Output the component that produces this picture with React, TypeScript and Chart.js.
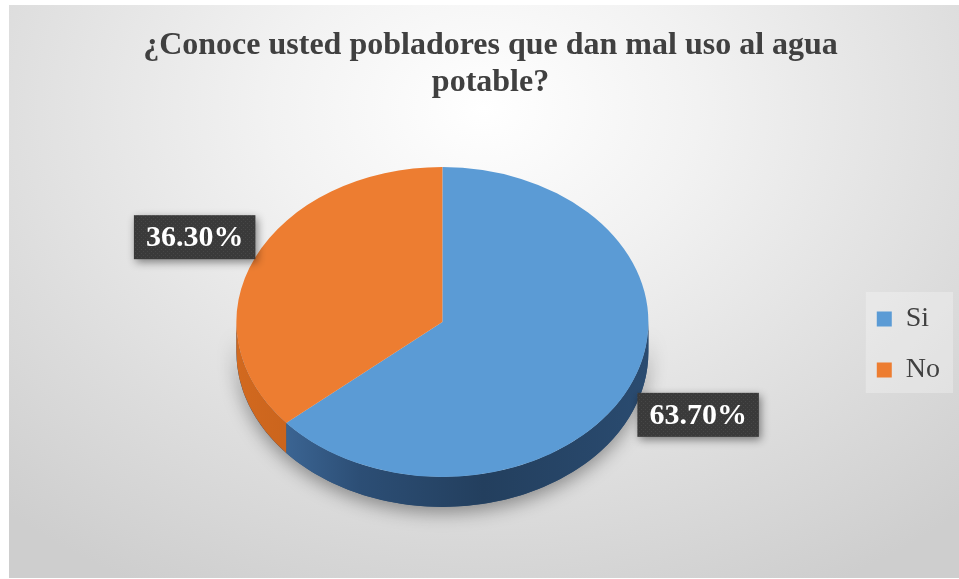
import React, { useEffect, useRef } from "react";
import { Chart, registerables } from "chart.js";

Chart.register(...registerables);

const titleLines = ["¿Conoce usted pobladores que dan mal uso al agua", "potable?"];
const categories = ["Si", "No"];
const percentages = [63.7, 36.3];
const topColors = ["#5b9bd5", "#ed7d31"];

const K = 0.752; // vertical squash of the pie (tilt)
const DEPTH = 30; // side height in px

function makePattern(ctx: CanvasRenderingContext2D) {
  const c = document.createElement("canvas");
  c.width = 4;
  c.height = 4;
  const p = c.getContext("2d")!;
  p.fillStyle = "#3a3a3a";
  p.fillRect(0, 0, 4, 4);
  p.fillStyle = "#474747";
  p.fillRect(0, 0, 1, 1);
  p.fillRect(2, 2, 1, 1);
  return ctx.createPattern(c, "repeat") || "#3a3a3a";
}

const pie3d = {
  id: "pie3d",
  beforeDraw(chart: any) {
    const legend = chart.legend;
    const boxes = legend && legend.legendHitBoxes;
    if (!boxes || !boxes.length) return;
    const ctx = chart.ctx;
    let l = Infinity, t = Infinity, r = -Infinity, b = -Infinity;
    boxes.forEach((h: any) => {
      l = Math.min(l, h.left);
      t = Math.min(t, h.top);
      r = Math.max(r, h.left + h.width);
      b = Math.max(b, h.top + h.height);
    });
    ctx.save();
    ctx.fillStyle = "rgba(255,255,255,0.28)";
    ctx.fillRect(l - 11, t - 13, r - l + 24, b - t + 22);
    ctx.restore();
  },
  beforeDatasetsDraw(chart: any) {
    const ctx = chart.ctx;
    const meta = chart.getDatasetMeta(0);
    const first = meta.data[0];
    const cx = first.x, cy = first.y, R = first.outerRadius;
    const ry = R * K;
    // shadow under the whole pie
    ctx.save();
    ctx.shadowColor = "rgba(0,0,0,0.38)";
    ctx.shadowBlur = 18;
    ctx.shadowOffsetY = 6;
    ctx.fillStyle = "#2a4a6e";
    ctx.beginPath();
    ctx.ellipse(cx, cy, R, ry, 0, 0, Math.PI);
    ctx.ellipse(cx, cy + DEPTH, R, ry, 0, Math.PI, 0, true);
    ctx.closePath();
    ctx.fill();
    ctx.restore();

    const sideGrads = [
      ["#4573a6", "#2c4e75", "#233f5e", "#2a4b70"],
      ["#d2691f", "#c05e1a", "#b05418", "#b05418"],
    ];
    meta.data.forEach((arc: any, i: number) => {
      const segs = [
        [Math.max(arc.startAngle, 0), Math.min(arc.endAngle, Math.PI)],
        [Math.max(arc.startAngle, 2 * Math.PI), Math.min(arc.endAngle, 3 * Math.PI)],
      ];
      segs.forEach(([a, b]) => {
        if (b <= a) return;
        const g = ctx.createLinearGradient(cx - R, 0, cx + R, 0);
        const s = sideGrads[i % 2];
        g.addColorStop(0, s[0]);
        g.addColorStop(0.3, s[1]);
        g.addColorStop(0.6, s[2]);
        g.addColorStop(1, s[3]);
        ctx.save();
        ctx.fillStyle = g;
        ctx.beginPath();
        ctx.ellipse(cx, cy, R, ry, 0, a, b);
        ctx.lineTo(cx + R * Math.cos(b), cy + ry * Math.sin(b) + DEPTH);
        ctx.ellipse(cx, cy + DEPTH, R, ry, 0, b, a, true);
        ctx.closePath();
        ctx.fill();
        ctx.restore();
      });
    });
    ctx.save();
    ctx.translate(cx, cy);
    ctx.scale(1, K);
    ctx.translate(-cx, -cy);
  },
  afterDatasetsDraw(chart: any) {
    const ctx = chart.ctx;
    ctx.restore();
    const meta = chart.getDatasetMeta(0);
    const values = chart.data.datasets[0].data as number[];
    const pattern = makePattern(ctx);
    meta.data.forEach((arc: any, i: number) => {
      const cx = arc.x, cy = arc.y, R = arc.outerRadius;
      const mid = (arc.startAngle + arc.endAngle) / 2;
      const lx = cx + Math.cos(mid) * (R + 71) + 4;
      const ly = cy + Math.sin(mid) * (R * K + 58) + 4;
      const text = values[i].toFixed(2) + "%";
      ctx.save();
      ctx.font = "bold 30px 'Liberation Serif'";
      const w = ctx.measureText(text).width + 24;
      const h = 44;
      ctx.shadowColor = "rgba(0,0,0,0.45)";
      ctx.shadowBlur = 8;
      ctx.shadowOffsetX = 2;
      ctx.shadowOffsetY = 3;
      ctx.fillStyle = pattern;
      ctx.fillRect(lx - w / 2, ly - h / 2, w, h);
      ctx.shadowColor = "transparent";
      ctx.fillStyle = "#ffffff";
      ctx.textAlign = "center";
      ctx.textBaseline = "middle";
      ctx.fillText(text, lx, ly + 1);
      ctx.restore();
    });
  },
};

export default function App() {
  const ref = useRef<HTMLCanvasElement | null>(null);
  useEffect(() => {
    if (!ref.current) return;
    const chart = new Chart(ref.current, {
      type: "pie",
      data: {
        labels: categories,
        datasets: [
          {
            data: percentages,
            backgroundColor: topColors,
            borderWidth: 0,
            radius: 206,
          },
        ],
      },
      options: {
        animation: false,
        responsive: true,
        maintainAspectRatio: false,
        layout: { padding: { left: 22, right: 9, top: 0, bottom: 50 } },
        plugins: {
          tooltip: { enabled: false },
          title: {
            display: true,
            text: titleLines,
            color: "#404040",
            font: { family: "'Liberation Serif'", size: 32, weight: "bold", lineHeight: 1.13 },
            padding: { top: 23.1, bottom: 15.6 },
          },
          legend: {
            position: "right",
            fullSize: false,
            title: { display: true, text: " ", font: { size: 10, lineHeight: 1.2 }, padding: { top: 0, bottom: 33 } },
            labels: {
              boxWidth: 15,
              boxHeight: 15,
              padding: 23,
              color: "#404040",
              font: { family: "'Liberation Serif'", size: 28 },
            },
          },
        },
      },
      plugins: [pie3d],
    });
    return () => chart.destroy();
  }, []);
  return (
    <div
      style={{
        position: "absolute",
        left: 9,
        top: 5,
        width: 950,
        height: 573,
        background:
          "radial-gradient(ellipse 75% 95% at 50% 18%, #ffffff 0%, #f2f2f2 30%, #dddddd 70%, #cecece 100%)",
        boxSizing: "border-box",
      }}
    >
      <canvas ref={ref} />
    </div>
  );
}
